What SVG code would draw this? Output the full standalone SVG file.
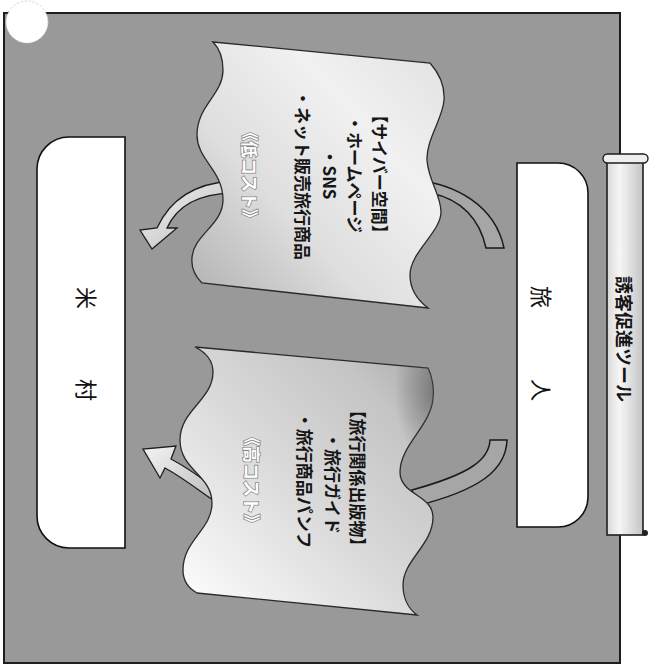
<svg xmlns="http://www.w3.org/2000/svg" width="657" height="667" viewBox="0 0 657 667">
<defs>
<style>
text{font-family:"Noto Sans CJK JP","Noto Sans CJK SC",sans-serif;dominant-baseline:central;text-anchor:middle}
.item{font-size:17px;font-weight:700;fill:#161616}
.cost{font-size:17px;font-weight:700;fill:#ffffff;stroke:#8a8a8a;stroke-width:1.6;paint-order:stroke}
.boxtxt{font-size:22px;fill:#111}
.box{fill:#ffffff;stroke:#111;stroke-width:1.6}
.band{fill:#a6a6a6;stroke:#1a1a1a;stroke-width:1.5}
.larrow{fill:url(#gArrow);stroke:#1e1e1e;stroke-width:1.3}
.flag{stroke:#2a2a2a;stroke-width:1.3}
</style>
<linearGradient id="gTop" gradientUnits="userSpaceOnUse" x1="195" y1="290" x2="445" y2="60">
<stop offset="0" stop-color="#b4b4b4"/>
<stop offset="0.35" stop-color="#dedede"/>
<stop offset="0.7" stop-color="#f1f1f1"/>
<stop offset="1" stop-color="#e2e2e2"/>
</linearGradient>
<linearGradient id="gBot" gradientUnits="userSpaceOnUse" x1="190" y1="600" x2="440" y2="360">
<stop offset="0" stop-color="#fbfbfb"/>
<stop offset="0.45" stop-color="#dadada"/>
<stop offset="0.8" stop-color="#c4c4c4"/>
<stop offset="1" stop-color="#a8a8a8"/>
</linearGradient>
<radialGradient id="gFold" cx="0.75" cy="0.45" r="0.6">
<stop offset="0" stop-color="#606060" stop-opacity="0.7"/>
<stop offset="1" stop-color="#606060" stop-opacity="0"/>
</radialGradient>
<linearGradient id="gArrow" x1="0" y1="0" x2="1" y2="1">
<stop offset="0" stop-color="#f4f4f4"/>
<stop offset="1" stop-color="#b8b8b8"/>
</linearGradient>
<linearGradient id="gScroll" x1="0" y1="0" x2="1" y2="0">
<stop offset="0" stop-color="#d8d8d8"/>
<stop offset="0.35" stop-color="#f6f6f6"/>
<stop offset="1" stop-color="#c4c4c4"/>
</linearGradient>
<clipPath id="clipBot">
<path d="M195,347 L428,368 C432,376 434,388 433,397 C432,425 400,445 400,472 C400,495 433,495 433,517 C433,545 403,560 403,585 C403,600 410,610 417,615 L197,593 C188,588 183,580 183,570 C183,540 212,530 212,503 C212,475 180,470 180,440 C180,410 213,400 213,372 C213,360 205,352 195,347 Z"/>
</clipPath>
</defs>
<rect width="657" height="667" fill="#ffffff"/>
<g id="frame">
<rect x="4" y="13" width="616" height="650" fill="#999999" stroke="#1e1e1e" stroke-width="2"/>
<circle cx="27" cy="22" r="21" fill="#ffffff" stroke="#cfcfcf" stroke-width="1" stroke-dasharray="2 2"/>
</g>
<g id="connectors">
<path class="band" d="M415,180 C455,184 495,205 504,248 L486,248 C480,220 462,199 430,193 Z"/>
<path class="larrow" d="M232,181 C200,183 172,195 157,228 L140,230 L152,249 L177,228 L167,228 C178,204 200,194 232,193 Z"/>
<path class="band" d="M490,440 C489,460 470,474 412,490 L416,506 C480,490 506,470 507,440 Z"/>
<path class="larrow" d="M220,492 C202,478 186,467 171,459 L176,446 L143,449 L160,478 L165,468 C182,477 198,490 220,505 Z"/>
</g>
<g id="scroll">
<rect x="607" y="160" width="36" height="375" fill="url(#gScroll)" stroke="#1e1e1e" stroke-width="1.6"/>
<rect x="603" y="154" width="45" height="9" rx="4.5" fill="#efefef" stroke="#1e1e1e" stroke-width="1.4"/>
<circle cx="645" cy="533" r="3" fill="#222"/>
<text class="item" transform="translate(625,339) rotate(90)" style="font-size:18px">誘客促進ツール</text>
</g>
<g id="traveler">
<path class="box" d="M517,163 H558 A30,30 0 0 1 588,193 V497 A30,30 0 0 1 558,527 H517 Z"/>
<text class="boxtxt" transform="translate(543,0) rotate(90)" x="297 390" y="0">旅人</text>
</g>
<g id="yonemura">
<path class="box" d="M125,137 V548 H69 A32,32 0 0 1 37,516 V169 A32,32 0 0 1 69,137 Z"/>
<text class="boxtxt" transform="translate(88,0) rotate(90)" x="298 390" y="0">米村</text>
</g>
<g id="cyber">
<path class="flag" fill="url(#gTop)" d="M213,42 L430,63 C438,72 445,85 444,100 C443,118 426,140 427,160 C428,180 441,195 441,212 C441,232 410,252 410,275 C410,292 420,302 428,308 L202,283 C196,277 191,268 192,258 C193,235 223,225 223,200 C223,170 197,160 197,135 C197,105 223,95 223,70 C223,55 218,47 213,42 Z"/>
<text class="item" transform="translate(380,174) rotate(90)">【サイバー空間】</text>
<text class="item" transform="translate(355,174) rotate(90)">・ホームページ</text>
<text class="item" transform="translate(330,174) rotate(90)">・SNS</text>
<text class="item" transform="translate(303,175) rotate(90)">・ネット販売旅行商品</text>
<text class="cost" transform="translate(250,175) rotate(90)">《低コスト》</text>
</g>
<g id="print">
<path class="flag" fill="url(#gBot)" d="M195,347 L428,368 C432,376 434,388 433,397 C432,425 400,445 400,472 C400,495 433,495 433,517 C433,545 403,560 403,585 C403,600 410,610 417,615 L197,593 C188,588 183,580 183,570 C183,540 212,530 212,503 C212,475 180,470 180,440 C180,410 213,400 213,372 C213,360 205,352 195,347 Z"/>
<ellipse cx="418" cy="398" rx="34" ry="62" fill="url(#gFold)" clip-path="url(#clipBot)"/>
<text class="item" transform="translate(358,478) rotate(90)">【旅行関係出版物】</text>
<text class="item" transform="translate(333,483) rotate(90)">・旅行ガイド</text>
<text class="item" transform="translate(305,480) rotate(90)">・旅行商品パンフ</text>
<text class="cost" transform="translate(252,480) rotate(90)">《高コスト》</text>
</g>
</svg>
